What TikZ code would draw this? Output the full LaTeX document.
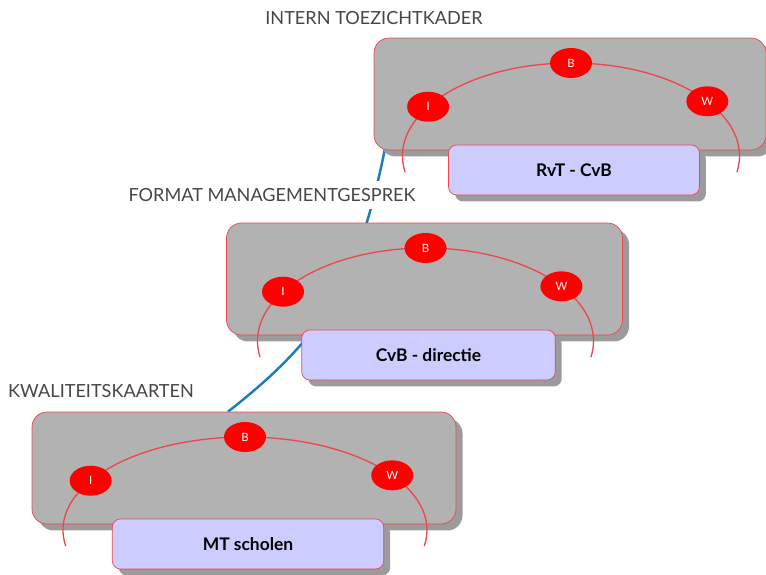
\documentclass[tikz,border=0pt]{standalone}
\usepackage{fontspec}
\setmainfont{Lato}
\usetikzlibrary{shapes.geometric,shadows}
\pgfdeclarelayer{background}
\pgfsetlayers{background,main}
\definecolor{plategray}{RGB}{178,178,178}
\definecolor{shadegray}{RGB}{155,155,155}
\definecolor{edgered}{RGB}{236,70,78}
\definecolor{rolefill}{RGB}{204,204,255}
\definecolor{dotred}{RGB}{255,0,0}
\definecolor{linkblue}{RGB}{25,125,190}
\definecolor{inkgray}{RGB}{70,70,70}

\begin{document}
\begin{tikzpicture}[x=0.02cm,y=0.02cm,
  plate/.style={draw=edgered,fill=plategray,rounded corners=0.3cm,minimum height=2.24cm,
    drop shadow={shadow xshift=0.13cm,shadow yshift=-0.13cm,opacity=1,fill=shadegray}},
  role/.style={draw=edgered,fill=rolefill,rounded corners=0.16cm,minimum height=1cm,
    font=\fontsize{9.9}{11}\selectfont\bfseries,
    drop shadow={shadow xshift=0.13cm,shadow yshift=-0.13cm,opacity=1,fill=shadegray}},
  dot/.style={ellipse,fill=dotred,text=white,inner sep=0pt,
    minimum width=0.84cm,minimum height=0.6cm,font=\fontsize{6.5}{7}\selectfont},
  ring/.style={draw=edgered,line width=0.75pt},
  level/.style={fill=white,text=inkgray,inner sep=4pt,font=\fontsize{10.3}{12}\selectfont},
  link/.style={draw=linkblue,line width=1.4pt}]
  \useasboundingbox (0,0) rectangle (766,574);

  % one level: plate, I-B-W arc and the role box below it
  \def\tier#1#2#3#4#5{%
    \begin{scope}[shift={#2}]
      \node[plate,minimum width=#4*0.02cm] (#1) at (-1,62) {};
      \draw[ring] (190:#3 and 93) arc[start angle=190,end angle=-10,x radius=#3,y radius=93];
      \node[dot] (#1-i) at (148:#3 and 93) {I};
      \node[dot] (#1-b) at (90:#3 and 93) {B};
      \node[dot] (#1-w) at (36:#3 and 93) {W};
      \node[role,minimum width=0.64*#4*0.02cm] (#1-role) at (3,-14) {#5};
    \end{scope}}

  \tier{rvt}{(571,418)}{168.5}{392}{RvT - CvB}
  \tier{cvb}{(425.5,233)}{168}{396}{CvB - directie}
  \tier{mt}{(245,44)}{182}{424}{MT scholen}

  \node[level] (kader)   at (374,556) {INTERN TOEZICHTKADER};
  \node[level] (gesprek) at (272,379) {FORMAT MANAGEMENTGESPREK};
  \node[level] (kaarten) at (101,183) {KWALITEITSKAARTEN};

  \begin{pgfonlayer}{background}
    \draw[link] ([shift={(-16,0)}]mt.north) .. controls +(100,78) and +(-26,-130)
      .. ([shift={(12,5)}]rvt.south west);
  \end{pgfonlayer}
\end{tikzpicture}
\end{document}
